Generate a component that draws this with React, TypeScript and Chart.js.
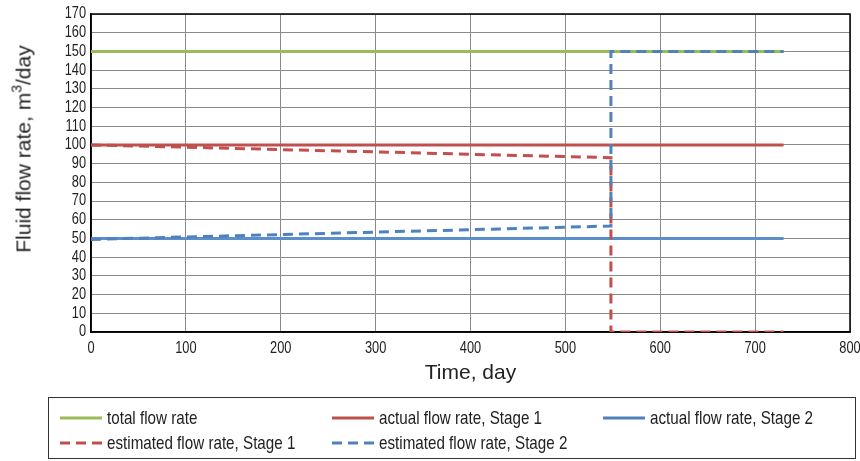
import React, { useEffect, useRef } from "react";
import { Chart, registerables } from "chart.js";

Chart.register(...registerables);

// ---- data ----
const totalDays = [0, 730];
const totalRate = [150, 150];

const actual1Days = [0, 730];
const actual1Rate = [100, 100];

const actual2Days = [0, 730];
const actual2Rate = [50, 50];

const est1Days = [0, 100, 200, 300, 400, 500, 548, 548, 730];
const est1Rate = [100, 98.8, 97.5, 96.3, 95.0, 93.8, 93.2, 0, 0];

const est2Days = [0, 100, 200, 300, 400, 500, 548, 548, 730];
const est2Rate = [49.5, 50.8, 52.1, 53.4, 54.7, 56.0, 56.7, 150, 150];

const seriesLabels = [
  "total flow rate",
  "actual flow rate, Stage 1",
  "actual flow rate, Stage 2",
  "estimated flow rate, Stage 1",
  "estimated flow rate, Stage 2",
];

const xTitle = "Time, day";
const yTitleMain = "Fluid flow rate, m";
const yTitleSup = "3";
const yTitleTail = "/day";

const GREEN = "#9BBB59";
const RED = "#C0504D";
const BLUE = "#4F81BD";
const BLUE_LIGHT = "#5B8FCB";

const REGULAR = '"Liberation Sans", Arial, sans-serif';
const SQUEEZE = 0.8;

const pts = (xs: number[], ys: number[]) => xs.map((x, i) => ({ x, y: ys[i] }));

const frame = {
  id: "frame",
  beforeDatasetsDraw(chart: any) {
    const { ctx, chartArea } = chart;
    ctx.save();
    ctx.strokeStyle = "#000";
    ctx.lineWidth = 1.5;
    ctx.strokeRect(chartArea.left, chartArea.top, chartArea.right - chartArea.left, chartArea.bottom - chartArea.top);
    ctx.restore();
  },
};

// narrow tick labels, drawn at the positions given by the chart's own scales
const tickLabels = {
  id: "tickLabels",
  afterDraw(chart: any) {
    const { ctx, chartArea } = chart;
    const xs = chart.scales.x;
    const ys = chart.scales.y;
    ctx.save();
    ctx.fillStyle = "#222";
    ctx.font = `16px ${REGULAR}`;
    ctx.textBaseline = "middle";
    ys.ticks.forEach((t: any) => {
      const py = ys.getPixelForValue(t.value);
      ctx.save();
      ctx.translate(chartArea.left - 5, py);
      ctx.scale(SQUEEZE, 1);
      ctx.textAlign = "right";
      ctx.fillText(String(t.label), 0, 0);
      ctx.restore();
    });
    xs.ticks.forEach((t: any) => {
      const px = xs.getPixelForValue(t.value);
      ctx.save();
      ctx.translate(px, chartArea.bottom + 17);
      ctx.scale(SQUEEZE, 1);
      ctx.textAlign = "center";
      ctx.fillText(String(t.label), 0, 0);
      ctx.restore();
    });
    ctx.restore();
  },
};

export default function App() {
  const ref = useRef<HTMLCanvasElement>(null);

  useEffect(() => {
    document.body.style.margin = "0";
    if (!ref.current) return;
    const chart = new Chart(ref.current, {
      type: "line",
      data: {
        datasets: [
          {
            label: seriesLabels[4],
            data: pts(est2Days, est2Rate),
            borderColor: BLUE,
            borderWidth: 3,
            borderDash: [10, 6],
            order: 0,
          },
          {
            label: seriesLabels[3],
            data: pts(est1Days, est1Rate),
            borderColor: RED,
            borderWidth: 3,
            borderDash: [10, 6],
            order: 1,
          },
          {
            label: seriesLabels[2],
            data: pts(actual2Days, actual2Rate),
            borderColor: BLUE_LIGHT,
            borderWidth: 3,
            order: 2,
          },
          {
            label: seriesLabels[1],
            data: pts(actual1Days, actual1Rate),
            borderColor: RED,
            borderWidth: 3,
            order: 3,
          },
          {
            label: seriesLabels[0],
            data: pts(totalDays, totalRate),
            borderColor: GREEN,
            borderWidth: 3,
            order: 4,
          },
        ],
      },
      options: {
        animation: false,
        responsive: true,
        maintainAspectRatio: false,
        elements: { point: { radius: 0 }, line: { tension: 0, borderCapStyle: "butt" } },
        layout: { padding: { left: 0, right: 10, top: 14, bottom: 0 } },
        plugins: { legend: { display: false }, tooltip: { enabled: false } },
        scales: {
          x: {
            type: "linear",
            min: 0,
            max: 800,
            ticks: { stepSize: 100, display: false },
            grid: { color: "#8a8a8a", lineWidth: 1, drawTicks: false },
            border: { color: "#000", width: 1.5 },
            title: {
              display: true,
              text: xTitle,
              color: "#222",
              font: { family: REGULAR, size: 21 },
              padding: { top: 0, bottom: 75 },
            },
            afterFit: (s: any) => {
              s.height = 129;
            },
          },
          y: {
            min: 0,
            max: 170,
            ticks: { stepSize: 10, display: false },
            grid: { color: "#8a8a8a", lineWidth: 1, drawTicks: false },
            border: { color: "#000", width: 1.5 },
            afterFit: (s: any) => {
              s.width = 91;
            },
          },
        },
      },
      plugins: [frame, tickLabels],
    } as any);
    return () => chart.destroy();
  }, []);

  const legendItems = [
    { label: seriesLabels[0], color: GREEN, dash: false, left: 60, top: 418 },
    { label: seriesLabels[1], color: RED, dash: false, left: 332, top: 418 },
    { label: seriesLabels[2], color: BLUE, dash: false, left: 603, top: 418 },
    { label: seriesLabels[3], color: RED, dash: true, left: 60, top: 443 },
    { label: seriesLabels[4], color: BLUE, dash: true, left: 332, top: 443 },
  ];

  return (
    <div style={{ position: "relative", width: 860, height: 461, overflow: "hidden" }}>
      <div style={{ position: "absolute", left: 0, top: 0, width: 860, height: 461 }}>
        <canvas ref={ref} />
      </div>
      <div
        style={{
          position: "absolute",
          left: 23,
          top: 148.5,
          transform: "translate(-50%, -50%) rotate(-90deg)",
          whiteSpace: "nowrap",
          fontFamily: REGULAR,
          fontSize: 21,
          lineHeight: 1,
          color: "#222",
        }}
      >
        {yTitleMain}
        <span style={{ fontSize: 14, position: "relative", top: -9 }}>{yTitleSup}</span>
        {yTitleTail}
      </div>
      <div
        style={{
          position: "absolute",
          left: 48,
          top: 397,
          width: 808,
          height: 62,
          border: "1.5px solid #333",
          boxSizing: "border-box",
        }}
      />
      {legendItems.map((it, i) => (
        <div
          key={i}
          style={{
            position: "absolute",
            left: it.left,
            top: it.top - 12,
            height: 24,
            display: "flex",
            alignItems: "center",
            whiteSpace: "nowrap",
            fontFamily: REGULAR,
            fontSize: 19,
            color: "#222",
          }}
        >
          <svg width={42} height={6} style={{ marginRight: 5, flex: "none" }}>
            <line
              x1={0}
              y1={3}
              x2={42}
              y2={3}
              stroke={it.color}
              strokeWidth={3}
              strokeDasharray={it.dash ? "10 6" : undefined}
            />
          </svg>
          <span style={{ display: "inline-block", transform: `scaleX(${SQUEEZE})`, transformOrigin: "left center" }}>
            {it.label}
          </span>
        </div>
      ))}
    </div>
  );
}
